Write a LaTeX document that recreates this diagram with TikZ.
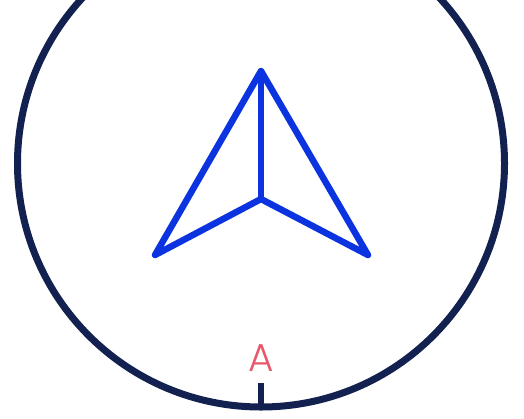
\documentclass[tikz,border=0pt]{standalone}
\usepackage{fontspec}
\setmainfont{Poppins Light}
\definecolor{navy}{HTML}{12214F}
\definecolor{arrowblue}{HTML}{0B33DF}
\definecolor{pinkA}{HTML}{E8586A}
\begin{document}
\begin{tikzpicture}[x=1pt,y=-1pt,
  ring/.style={draw=navy,line width=7pt},
  arrowline/.style={draw=arrowblue,line width=6.5pt,line join=round,line cap=round}]
\useasboundingbox (0,0) rectangle (524,418);
\begin{scope}
\clip (0,0) rectangle (524,418);
\draw[ring] (261,163.5) circle[radius=243.5];
\end{scope}
\coordinate (top) at (261,71);
\coordinate (left) at (155,255);
\coordinate (right) at (368,255);
\coordinate (mid) at (261,199);
\coordinate (ticktop) at (261,383);
\coordinate (tickbot) at (261,407);
\draw[arrowline] (top) -- (left) -- (mid) -- (right) -- cycle;
\draw[arrowline] (top) -- (mid);
\draw[navy,line width=6pt] (ticktop) -- (tickbot);
\node[text=pinkA,font=\fontsize{39}{40}\selectfont,inner sep=0pt,anchor=base] (labelA) at (261,371) {A};
\end{tikzpicture}
\end{document}
